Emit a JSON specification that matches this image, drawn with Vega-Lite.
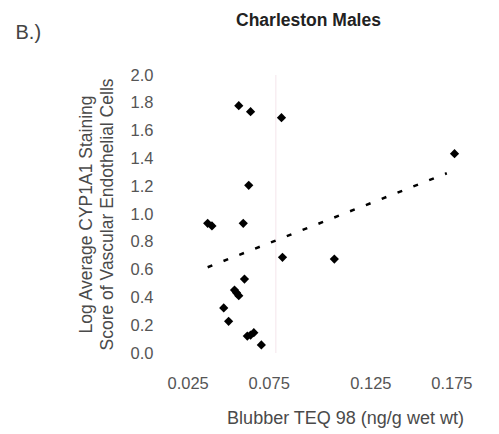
{
  "$schema": "https://vega.github.io/schema/vega-lite/v6.json",
  "width": 305,
  "height": 278,
  "autosize": {"type": "none"},
  "padding": {"left": 167, "top": 75, "right": 27, "bottom": 81},
  "background": "white",
  "config": {
    "view": {"stroke": null},
    "font": "Liberation Sans",
    "axis": {"grid": false, "domain": false, "ticks": false, "labelFont": "Liberation Sans", "titleFont": "Liberation Sans", "labelColor": "#555555", "titleColor": "#4a4a4a", "titleFontWeight": "normal"}
  },
  "datasets": {
    "points": [
      {"teq": 0.0603, "score": 1.779},
      {"teq": 0.0661, "score": 1.736},
      {"teq": 0.0813, "score": 1.693},
      {"teq": 0.1664, "score": 1.434},
      {"teq": 0.0652, "score": 1.206},
      {"teq": 0.0450, "score": 0.933},
      {"teq": 0.0471, "score": 0.914},
      {"teq": 0.0625, "score": 0.933},
      {"teq": 0.0818, "score": 0.688},
      {"teq": 0.1073, "score": 0.676},
      {"teq": 0.0631, "score": 0.532},
      {"teq": 0.0582, "score": 0.453},
      {"teq": 0.0592, "score": 0.433},
      {"teq": 0.0603, "score": 0.412},
      {"teq": 0.0529, "score": 0.324},
      {"teq": 0.0553, "score": 0.228},
      {"teq": 0.0645, "score": 0.122},
      {"teq": 0.0661, "score": 0.129},
      {"teq": 0.0677, "score": 0.146},
      {"teq": 0.0714, "score": 0.058}
    ],
    "trend": [
      {"teq": 0.045, "score": 0.617},
      {"teq": 0.1626, "score": 1.293}
    ],
    "crease": [{"teq": 0.0785}]
  },
  "layer": [
    {
      "data": {"name": "crease"},
      "mark": {"type": "rule", "color": "#f8eef2", "strokeWidth": 1.5},
      "encoding": {
        "x": {"field": "teq", "type": "quantitative", "scale": {"domain": [0.025, 0.175]}, "axis": null}
      }
    },
    {
      "data": {"name": "points"},
      "mark": {"type": "point", "shape": "diamond", "filled": true, "color": "#000000", "size": 85, "opacity": 1},
      "encoding": {
        "x": {
          "field": "teq", "type": "quantitative",
          "scale": {"domain": [0.025, 0.175], "nice": false, "zero": false},
          "axis": {
            "orient": "bottom", "values": [0.025, 0.075, 0.125, 0.175], "format": ".3f",
            "labelFontSize": 16.5, "labelPadding": 22,
            "title": "Blubber TEQ 98 (ng/g wet wt)", "titleFontSize": 18,
            "titleX": 178, "titleY": 70, "titleBaseline": "alphabetic", "titleAlign": "center"
          }
        },
        "y": {
          "field": "score", "type": "quantitative",
          "scale": {"domain": [0, 2], "nice": false, "zero": false},
          "axis": {
            "orient": "left", "values": [0, 0.2, 0.4, 0.6, 0.8, 1.0, 1.2, 1.4, 1.6, 1.8, 2.0], "format": ".1f",
            "labelFontSize": 16.5, "labelPadding": 14,
            "title": ["Log Average CYP1A1 Staining", "Score of Vascular Endothelial Cells"],
            "titleFontSize": 17.5, "titleLineHeight": 21, "titlePadding": 14
          }
        }
      }
    },
    {
      "data": {"name": "trend"},
      "mark": {"type": "line", "color": "#000000", "strokeWidth": 2.5, "strokeDash": [5, 12]},
      "encoding": {
        "x": {
          "field": "teq", "type": "quantitative",
          "scale": {"domain": [0.025, 0.175], "nice": false, "zero": false},
          "axis": {
            "orient": "top", "labels": false, "title": "Charleston Males",
            "titleFontSize": 17.5, "titleFontWeight": "bold", "titleColor": "#222222",
            "titleX": 141, "titleY": -50, "titleBaseline": "alphabetic", "titleAlign": "center"
          }
        },
        "y": {
          "field": "score", "type": "quantitative",
          "scale": {"domain": [0, 2], "nice": false, "zero": false},
          "axis": {
            "orient": "right", "labels": false, "title": "B.)",
            "titleFontSize": 20, "titleAngle": 0, "titleColor": "#444444",
            "titleX": -457, "titleY": -37, "titleBaseline": "alphabetic", "titleAlign": "left"
          }
        }
      }
    }
  ],
  "resolve": {"axis": {"x": "independent", "y": "independent"}}
}
